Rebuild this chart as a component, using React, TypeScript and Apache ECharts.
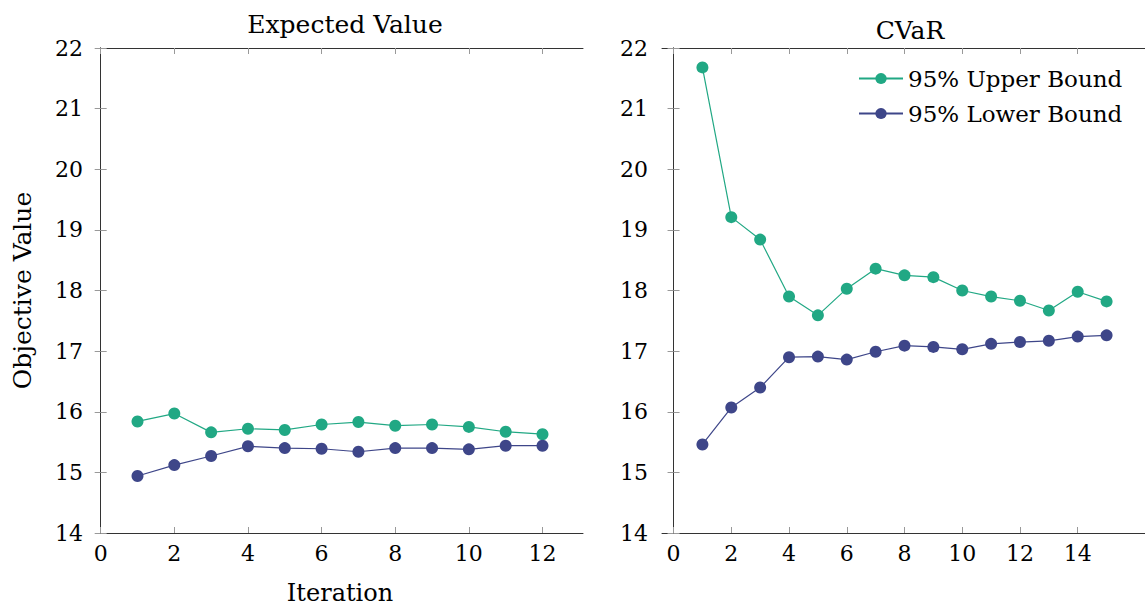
import React, { useEffect, useRef } from "react";
import * as echarts from "echarts";

const evIterations = [1, 2, 3, 4, 5, 6, 7, 8, 9, 10, 11, 12];
const evUpper = [15.84, 15.97, 15.66, 15.72, 15.7, 15.79, 15.83, 15.77, 15.79, 15.75, 15.67, 15.63];
const evLower = [14.94, 15.12, 15.27, 15.43, 15.4, 15.39, 15.34, 15.4, 15.4, 15.38, 15.44, 15.44];

const cvarIterations = [1, 2, 3, 4, 5, 6, 7, 8, 9, 10, 11, 12, 13, 14, 15];
const cvarUpper = [21.68, 19.21, 18.84, 17.9, 17.59, 18.03, 18.36, 18.25, 18.22, 18.0, 17.9, 17.83, 17.67, 17.98, 17.82];
const cvarLower = [15.46, 16.07, 16.4, 16.9, 16.91, 16.86, 16.99, 17.09, 17.07, 17.03, 17.12, 17.15, 17.17, 17.24, 17.26];

const evXTicks = [0, 2, 4, 6, 8, 10, 12];
const cvarXTicks = [0, 2, 4, 6, 8, 10, 12, 14];

const GREEN = "#21a884";
const BLUE = "#3e4689";
const FONT = "DejaVu Serif";

export default function App() {
  const ref = useRef<HTMLDivElement>(null);
  useEffect(() => {
    if (!ref.current) return;
    const chart = echarts.init(ref.current, null, { renderer: "svg" });
    const axisLine = { show: true, lineStyle: { color: "#333", width: 1 } };
    const tick = (vals: number[] | null) => ({
      show: true,
      inside: true,
      length: 6,
      lineStyle: { color: "#999", width: 1 },
      ...(vals ? { customValues: vals } : {}),
    });
    const label = { color: "#000", fontFamily: FONT, fontSize: 22 };
    const xBottom = (grid: number, min: number, max: number, ticks: number[], name?: string) => ({
      type: "value",
      gridIndex: grid,
      position: "bottom",
      min,
      max,
      axisLine,
      axisTick: tick(ticks),
      axisLabel: { ...label, margin: 9, customValues: ticks },
      splitLine: { show: false },
      name: name || "",
      nameLocation: "middle",
      nameGap: 48,
      nameTextStyle: { color: "#000", fontFamily: FONT, fontSize: 24 },
    });
    const xTop = (grid: number, min: number, max: number, ticks: number[]) => ({
      type: "value",
      gridIndex: grid,
      position: "top",
      min,
      max,
      axisLine,
      axisTick: tick(ticks),
      axisLabel: { show: false, customValues: ticks },
      splitLine: { show: false },
    });
    const yLeft = (grid: number, name?: string) => ({
      type: "value",
      gridIndex: grid,
      position: "left",
      min: 14,
      max: 22,
      interval: 1,
      axisLine,
      axisTick: tick(null),
      axisLabel: { ...label, margin: 14 },
      splitLine: { show: false },
      name: name || "",
      nameLocation: "middle",
      nameGap: 62,
      nameTextStyle: { color: "#000", fontFamily: FONT, fontSize: 25 },
    });
    const yRight = (grid: number) => ({
      type: "value",
      gridIndex: grid,
      position: "right",
      min: 14,
      max: 22,
      interval: 1,
      axisLine,
      axisTick: tick(null),
      axisLabel: { show: false },
      splitLine: { show: false },
    });
    const line = (name: string, color: string, xs: number[], ys: number[], xi: number, yi: number) => ({
      type: "line",
      name,
      xAxisIndex: xi,
      yAxisIndex: yi,
      data: xs.map((x, i) => [x, ys[i]]),
      symbol: "circle",
      symbolSize: 12,
      showSymbol: true,
      lineStyle: { color, width: 1.2 },
      itemStyle: { color },
      z: 3,
    });
    chart.setOption({
      animation: false,
      backgroundColor: "#fff",
      title: [
        {
          text: "Expected Value",
          left: 340,
          top: 7,
          textAlign: "center",
          textStyle: { fontFamily: FONT, fontSize: 25, fontWeight: "normal", color: "#000" },
        },
        {
          text: "CVaR",
          left: 905,
          top: 13,
          textAlign: "center",
          textStyle: { fontFamily: FONT, fontSize: 25, fontWeight: "normal", color: "#000" },
        },
      ],
      legend: {
        orient: "vertical",
        left: 853,
        top: 62,
        itemWidth: 44,
        itemHeight: 14,
        itemGap: 12,
        data: ["95% Upper Bound", "95% Lower Bound"],
        textStyle: { fontFamily: FONT, fontSize: 23, color: "#000" },
      },
      grid: [
        { left: 97, top: 48, width: 486, height: 485, outerBoundsMode: "none" },
        { left: 662, top: 48, width: 485, height: 485, outerBoundsMode: "none" },
      ],
      xAxis: [
        xBottom(0, -0.1, 13.1, evXTicks, "Iteration"),
        xTop(0, -0.1, 13.1, evXTicks),
        xBottom(1, -0.4, 16.4, cvarXTicks),
        xTop(1, -0.4, 16.4, cvarXTicks),
      ],
      yAxis: [yLeft(0, "Objective Value"), yRight(0), yLeft(1), yRight(1)],
      series: [
        line("95% Upper Bound", GREEN, evIterations, evUpper, 0, 0),
        line("95% Lower Bound", BLUE, evIterations, evLower, 0, 0),
        line("95% Upper Bound", GREEN, cvarIterations, cvarUpper, 2, 2),
        line("95% Lower Bound", BLUE, cvarIterations, cvarLower, 2, 2),
      ],
    });
    return () => chart.dispose();
  }, []);
  return (
    <div
      ref={ref}
      style={{ position: "absolute", left: 0, top: 0, width: 1145, height: 607 }}
    />
  );
}
